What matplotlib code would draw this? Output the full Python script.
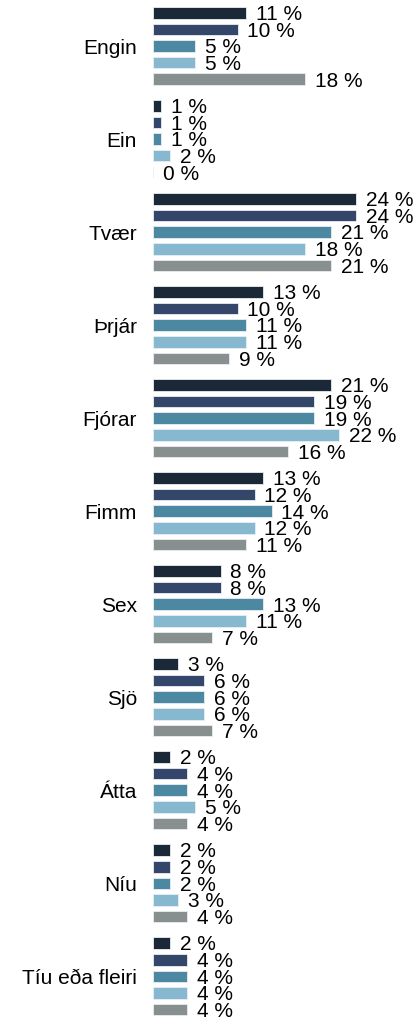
import matplotlib.pyplot as plt
import numpy as np

plt.rcParams['font.family'] = ['Liberation Sans', 'DejaVu Sans']

# Data
categories = ['Engin', 'Ein', 'Tvær', 'Þrjár', 'Fjórar', 'Fimm', 'Sex',
              'Sjö', 'Átta', 'Níu', 'Tíu eða fleiri']
series_1 = [11, 1, 24, 13, 21, 13, 8, 3, 2, 2, 2]
series_2 = [10, 1, 24, 10, 19, 12, 8, 6, 4, 2, 4]
series_3 = [5, 1, 21, 11, 19, 14, 13, 6, 4, 2, 4]
series_4 = [5, 2, 18, 11, 22, 12, 11, 6, 5, 3, 4]
series_5 = [18, 0, 21, 9, 16, 11, 7, 7, 4, 4, 4]
all_series = [series_1, series_2, series_3, series_4, series_5]
colors = ['#1b2838', '#34466a', '#4d88a3', '#86b8d0', '#878f8f']

# Figure definition
fig = plt.figure(figsize=(4.18, 10.21), dpi=100)
ax = fig.add_axes([153 / 418, 0, 1 - 153 / 418, 1])

pitch = 0.1785
height = 0.125
y = np.arange(len(categories))
for i, (vals, col) in enumerate(zip(all_series, colors)):
    pos = y + (i - 2) * pitch
    ax.barh(pos, vals, height=height, color=col, edgecolor='#e8eef2', linewidth=0.6)
    for p, v in zip(pos, vals):
        ax.text(v + 1.15, p + 0.02, f'{v} %', va='center', ha='left', fontsize=15)

ax.set_xlim(0, 31.3)
ax.set_ylim(10.48, -0.495)
ax.set_yticks(y)
ax.set_yticklabels(categories, fontsize=15)
ax.tick_params(axis='y', length=0, pad=11.5)
ax.set_xticks([])
for s in ax.spines.values():
    s.set_visible(False)

plt.savefig('out.png', dpi=100)
